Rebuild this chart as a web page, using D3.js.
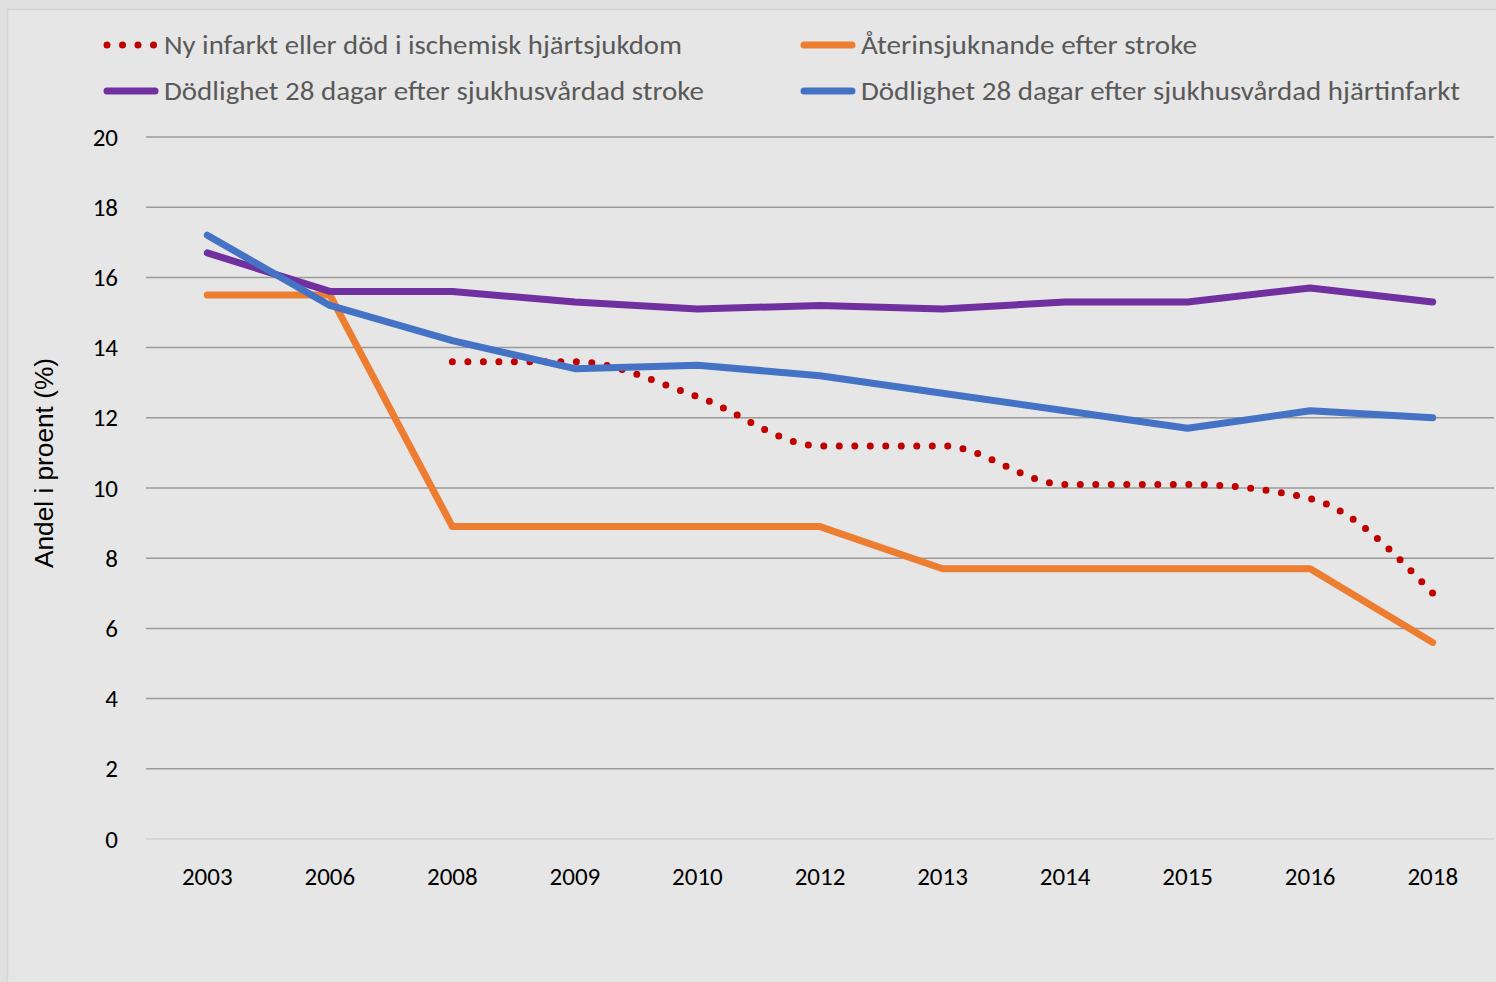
<!DOCTYPE html>
<html>
<head>
<meta charset="utf-8">
<style>
  body { margin: 0; background: #e0e0e0; }
  svg { display: block; }
</style>
</head>
<body>
<div id="chart"></div>

<script src="https://cdn.jsdelivr.net/npm/d3@7"></script>
<script>
// data
var years = ["2003", "2006", "2008", "2009", "2010", "2012", "2013", "2014", "2015", "2016", "2018"]
var nyInfarkt     = [null, null, 13.6, 13.6, 12.6, 11.2, 11.2, 10.1, 10.1, 9.7, 7.0]
var aterinsjukn   = [15.5, 15.5, 8.9, 8.9, 8.9, 8.9, 7.7, 7.7, 7.7, 7.7, 5.6]
var dodStroke     = [16.7, 15.6, 15.6, 15.3, 15.1, 15.2, 15.1, 15.3, 15.3, 15.7, 15.3]
var dodInfarkt    = [17.2, 15.2, 14.2, 13.4, 13.5, 13.2, 12.7, 12.2, 11.7, 12.2, 12.0]
var yTicks = [0, 2, 4, 6, 8, 10, 12, 14, 16, 18, 20]

var series = [
  {name: "Ny infarkt eller död i ischemisk hjärtsjukdom", values: nyInfarkt, color: "#c00000", dotted: true, len: 518},
  {name: "Återinsjuknande efter stroke", values: aterinsjukn, color: "#ed7d31", len: 336},
  {name: "Dödlighet 28 dagar efter sjukhusvårdad stroke", values: dodStroke, color: "#7030a0", len: 540},
  {name: "Dödlighet 28 dagar efter sjukhusvårdad hjärtinfarkt", values: dodInfarkt, color: "#4472c4", len: 599}
]

var W = 1496, H = 982
var margin = {top: 137, right: 2, bottom: 143, left: 146}
var width = W - margin.left - margin.right
var height = H - margin.top - margin.bottom

var svg = d3.select("#chart").append("svg")
  .attr("width", W).attr("height", H)

// chart area background + border
svg.append("rect")
  .attr("x", 7.5).attr("y", 9.5).attr("width", W).attr("height", H)
  .attr("fill", "#e6e6e6").attr("stroke", "#d4d4d4").attr("stroke-width", 1.5)

var g = svg.append("g").attr("transform", "translate(" + margin.left + "," + margin.top + ")")

var x = d3.scaleBand().domain(years).range([0, width])
var y = d3.scaleLinear().domain([0, 20]).range([height, 0])
var xc = function(i){ return x(years[i]) + x.bandwidth() / 2 }

// gridlines
g.selectAll(".grid").data(yTicks).enter().append("line")
  .attr("x1", 0).attr("x2", width)
  .attr("y1", d => y(d)).attr("y2", d => y(d))
  .attr("stroke", d => d === 0 ? "#d6d6d6" : "#9a9a9a")
  .attr("stroke-width", d => d === 0 ? 2 : 1.5)

var tickFont = "Carlito, Calibri, 'Open Sans', sans-serif"

// y axis
var yAxis = g.append("g").call(d3.axisLeft(y).tickValues(yTicks).tickSize(0).tickPadding(28))
yAxis.select(".domain").remove()
yAxis.selectAll("text").attr("font-family", tickFont).attr("font-size", 25).attr("fill", "#000")

// x axis
var xAxis = g.append("g").attr("transform", "translate(0," + height + ")")
  .call(d3.axisBottom(x).tickSize(0).tickPadding(28))
xAxis.select(".domain").remove()
xAxis.selectAll("text").attr("font-family", tickFont).attr("font-size", 25).attr("fill", "#000")

// y label
svg.append("text")
  .attr("transform", "translate(53,463) rotate(-90)")
  .attr("text-anchor", "middle")
  .attr("font-family", "'Liberation Sans', Arial, sans-serif")
  .attr("font-size", 25).attr("fill", "#000")
  .attr("textLength", 210).attr("lengthAdjust", "spacingAndGlyphs")
  .text("Andel i proent (%)")

// lines
series.forEach(function(s){
  var pts = s.values.map((v, i) => ({i: i, v: v})).filter(d => d.v !== null)
  var line = d3.line().x(d => xc(d.i)).y(d => y(d.v))
  if (s.dotted) line.curve(d3.curveMonotoneX)
  g.append("path").datum(pts)
    .attr("fill", "none")
    .attr("stroke", s.color)
    .attr("stroke-width", 7)
    .attr("stroke-linecap", "round")
    .attr("stroke-linejoin", "round")
    .attr("stroke-dasharray", s.dotted ? "0 15.5" : null)
    .attr("d", line)
})

// legend
var legendPos = [[103, 45], [800, 45], [103, 91], [800, 91]]
series.forEach(function(s, k){
  var p = legendPos[k]
  var lg = svg.append("g").attr("transform", "translate(" + p[0] + "," + p[1] + ")")
  lg.append("line")
    .attr("x1", 4).attr("x2", 52).attr("y1", 0).attr("y2", 0)
    .attr("stroke", s.color).attr("stroke-width", 7)
    .attr("stroke-linecap", "round")
    .attr("stroke-dasharray", s.dotted ? "0 15.5" : null)
  lg.append("text")
    .attr("x", 61).attr("y", 9)
    .attr("font-family", tickFont).attr("font-size", 27).attr("fill", "#595959")
    .attr("textLength", s.len).attr("lengthAdjust", "spacingAndGlyphs")
    .text(s.name)
})
</script>
</body>
</html>
